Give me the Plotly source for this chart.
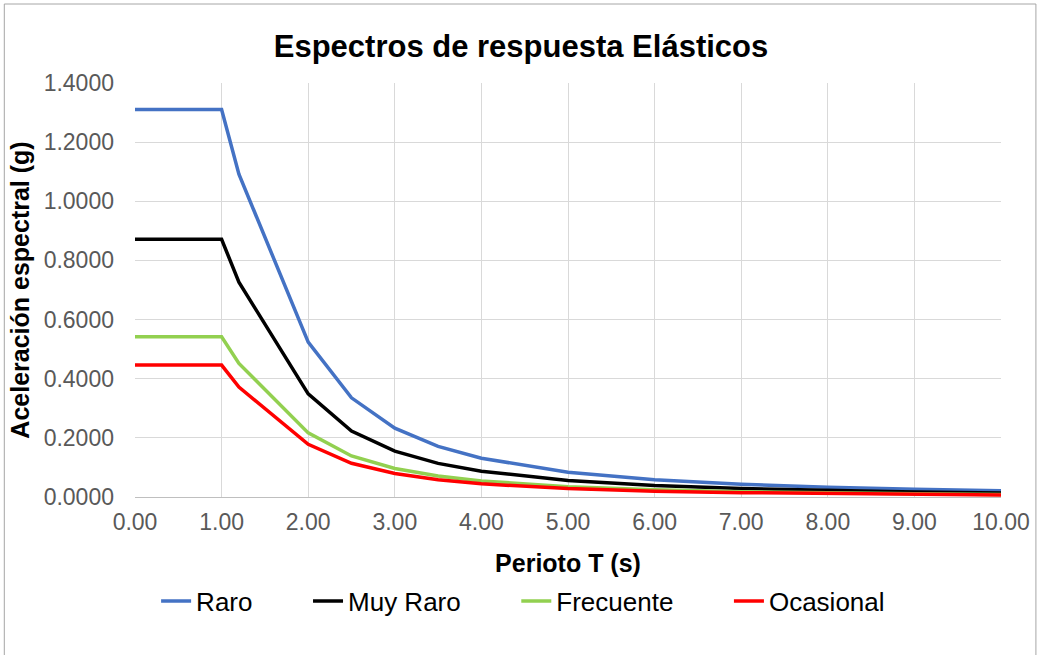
import plotly.graph_objects as go

periodo = [0.0, 1.0, 1.2, 2.0, 2.5, 3.0, 3.5, 4.0, 5.0, 6.0, 7.0, 8.0, 9.0, 10.0]
raro = [1.3100, 1.3100, 1.0917, 0.5240, 0.3354, 0.2329, 0.1711, 0.1310, 0.0838, 0.0582, 0.0428, 0.0328, 0.0259, 0.0210]
muy_raro = [0.8715, 0.8715, 0.7263, 0.3486, 0.2231, 0.1549, 0.1138, 0.0872, 0.0558, 0.0387, 0.0285, 0.0218, 0.0172, 0.0139]
frecuente = [0.5420, 0.5420, 0.4517, 0.2168, 0.1388, 0.0964, 0.0708, 0.0542, 0.0347, 0.0241, 0.0177, 0.0136, 0.0107, 0.0087]
ocasional = [0.4460, 0.4460, 0.3717, 0.1784, 0.1142, 0.0793, 0.0583, 0.0446, 0.0285, 0.0198, 0.0146, 0.0112, 0.0088, 0.0071]

series = [
    ("Raro", raro, "#4472C4"),
    ("Muy Raro", muy_raro, "#000000"),
    ("Frecuente", frecuente, "#92D050"),
    ("Ocasional", ocasional, "#FF0000"),
]

fig = go.Figure()
for i, (name, vals, color) in enumerate(series):
    pad = "\u00a0" * 7 if i < len(series) - 1 else ""
    fig.add_trace(go.Scatter(x=periodo, y=vals, mode="lines", name=name + pad,
                             line=dict(color=color, width=3.5)))

W, H = 1042, 655
L, R, T, B = 135, 39, 83, 158
pw, ph = W - L - R, H - T - B

def px_x(p):
    return (p - L) / pw

def px_y(p):
    return (H - B - p) / ph

fig.update_layout(
    width=W, height=H,
    margin=dict(l=L, r=R, t=T, b=B),
    paper_bgcolor="white", plot_bgcolor="white",
    font=dict(family="Liberation Sans, Arial, sans-serif", color="#595959"),
    title=dict(text="<b>Espectros de respuesta Elásticos</b>", x=0.5, xref="container",
               y=1 - 46 / H, yref="container", xanchor="center", yanchor="middle",
               font=dict(size=31, color="#000000")),
    showlegend=True,
    legend=dict(orientation="h", x=px_x(524), xanchor="center", y=px_y(601), yanchor="middle",
                font=dict(size=26, color="#000000"), traceorder="normal"),
    xaxis=dict(range=[0, 10], dtick=1, tick0=0, tickformat=".2f",
               showgrid=True, gridcolor="#D9D9D9", gridwidth=1,
               showline=True, linecolor="#BFBFBF", linewidth=1,
               zeroline=False, ticks="", tickfont=dict(size=23, color="#595959"),
               ticklabelstandoff=4,
               title=dict(text="<b>Perioto T (s)</b>", font=dict(size=25, color="#000000"), standoff=20)),
    yaxis=dict(range=[0, 1.4], dtick=0.2, tick0=0, tickformat=".4f",
               showgrid=True, gridcolor="#D9D9D9", gridwidth=1,
               showline=False, zeroline=False, ticks="",
               tickfont=dict(size=23, color="#595959"), ticklabelstandoff=20,
               title=dict(text="<b>Aceleración espectral (g)</b>", font=dict(size=25, color="#000000"), standoff=6)),
    shapes=[dict(type="rect", xref="paper", yref="paper",
                 x0=px_x(4), x1=px_x(1038), y0=px_y(670), y1=px_y(4),
                 line=dict(color="#A6A6A6", width=1), layer="below")],
)

fig.write_html("out.html")
